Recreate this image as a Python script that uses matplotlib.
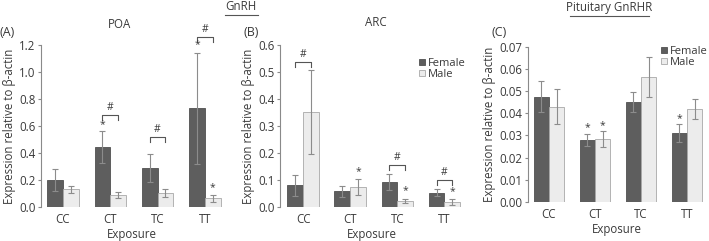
import matplotlib.pyplot as plt
import matplotlib.lines as mlines
import matplotlib.patches as mpatches
import numpy as np

plt.rcParams['font.family'] = ['Open Sans', 'DejaVu Sans']

groups = ["CC", "CT", "TC", "TT"]

# POA (GnRH)
poa_f = [0.20, 0.445, 0.29, 0.73]
poa_f_err = [0.085, 0.12, 0.105, 0.41]
poa_m = [0.13, 0.09, 0.105, 0.065]
poa_m_err = [0.025, 0.02, 0.03, 0.025]
poa_ticks = [0.0, 0.2, 0.4, 0.6, 0.8, 1.0, 1.2]

# ARC (GnRH)
arc_f = [0.08, 0.058, 0.093, 0.053]
arc_f_err = [0.04, 0.02, 0.03, 0.013]
arc_m = [0.352, 0.075, 0.023, 0.018]
arc_m_err = [0.157, 0.03, 0.007, 0.01]
arc_ticks = [0.0, 0.1, 0.2, 0.3, 0.4, 0.5, 0.6]

# pituitary GnRHR
pit_f = [0.0475, 0.028, 0.045, 0.031]
pit_f_err = [0.007, 0.0028, 0.0045, 0.004]
pit_m = [0.043, 0.0285, 0.0565, 0.042]
pit_m_err = [0.008, 0.0035, 0.009, 0.0045]
pit_ticks = [0.0, 0.01, 0.02, 0.03, 0.04, 0.05, 0.06, 0.07]

# significance marks: (group, 'f'/'m', y) for stars, (group, y) for brackets
poa_stars = [(1, 'f', 0.61), (3, 'f', 1.20), (3, 'm', 0.14)]
poa_hash = [(1, 0.68), (2, 0.52), (3, 1.257)]
arc_stars = [(1, 'm', 0.13), (2, 'm', 0.06), (3, 'm', 0.057)]
arc_hash = [(0, 0.536), (2, 0.155), (3, 0.10)]
pit_stars = [(1, 'f', 0.0335), (1, 'm', 0.0345), (3, 'f', 0.0375)]
pit_hash = []

W, H = 709, 241
fig = plt.figure(figsize=(W / 100, H / 100), dpi=100)

txt = '#3a3a3a'
spine = '#8a8a8a'
fem_c = '#5e5e5e'
mal_c = '#ececec'
bw = 0.333
fs = 8.3


def px_axes(left, bottom, top, x0, x1, spacing):
    width = (x1 - x0) * spacing
    return fig.add_axes([left / W, 1 - bottom / H, width / W, (bottom - top) / H])


def draw(ax, f, fe, m, me, ylim, yticks, fmt, stars, hashes, xlim):
    x = np.arange(len(groups))
    ax.bar(x - bw / 2, f, bw, color=fem_c, edgecolor='#505050', linewidth=0.6, zorder=2)
    ax.bar(x + bw / 2, m, bw, color=mal_c, edgecolor='#a8a8a8', linewidth=0.6, zorder=2)
    ax.errorbar(x - bw / 2, f, yerr=fe, fmt='none', ecolor='#8c8c8c', elinewidth=0.8,
                capsize=2.2, capthick=0.8, zorder=3)
    ax.errorbar(x + bw / 2, m, yerr=me, fmt='none', ecolor='#8c8c8c', elinewidth=0.8,
                capsize=2.2, capthick=0.8, zorder=3)
    ax.set_xlim(*xlim)
    ax.set_ylim(*ylim)
    ax.set_yticks(yticks)
    ax.set_yticklabels([fmt.format(t) for t in yticks])
    ax.set_xticks(x)
    ax.set_xticklabels(groups)
    for s in ['top', 'right', 'bottom']:
        ax.spines[s].set_visible(False)
    ax.spines['left'].set_color(spine)
    ax.spines['left'].set_linewidth(0.8)
    ax.tick_params(axis='y', colors=spine, labelcolor=txt, labelsize=fs, length=2.5, width=0.8, pad=1.5)
    ax.tick_params(axis='x', length=0, labelcolor=txt, labelsize=fs, pad=4)
    ax.set_xlabel("Exposure", color=txt, fontsize=fs, labelpad=1.5)
    ax.set_ylabel("Expression relative to β-actin", color=txt, fontsize=fs, labelpad=2)
    rng = ylim[1] - ylim[0]
    for g, side, y in stars:
        xs = g - bw / 2 if side == 'f' else g + bw / 2
        ax.text(xs, y, "*", ha='center', va='center', fontsize=7.5, color=txt, clip_on=False)
    for g, y in hashes:
        d = rng * 0.03
        ax.plot([g - bw / 2, g - bw / 2, g + bw / 2, g + bw / 2], [y - d, y, y, y - d],
                color='#555555', lw=0.8, clip_on=False)
        ax.text(g, y + rng * 0.012, "#", ha='center', va='bottom', fontsize=7.5, color=txt,
                clip_on=False)


xa = (-0.465, 3.38)
axA = px_axes(41, 207, 45, xa[0], xa[1], 47.3)
draw(axA, poa_f, poa_f_err, poa_m, poa_m_err, (0, 1.2), poa_ticks, "{:.1f}",
     poa_stars, poa_hash, xa)

xb = (-0.49, 3.4)
axB = px_axes(280, 207, 45, xb[0], xb[1], 47.1)
draw(axB, arc_f, arc_f_err, arc_m, arc_m_err, (0, 0.6), arc_ticks, "{:.1f}",
     arc_stars, arc_hash, xb)

xc = (-0.46, 3.42)
axC = px_axes(527.7, 202, 46.7, xc[0], xc[1], 46)
draw(axC, pit_f, pit_f_err, pit_m, pit_m_err, (0, 0.07), pit_ticks, "{:.2f}",
     pit_stars, pit_hash, xc)


def ftext(x, y, s, **kw):
    fig.text(x / W, 1 - y / H, s, color=txt, **kw)


ftext(120, 25, "POA", ha='center', va='center', fontsize=fs)
ftext(376, 23, "ARC", ha='center', va='center', fontsize=fs)
ftext(0, 33, "(A)", ha='left', va='center', fontsize=9)
ftext(243, 33, "(B)", ha='left', va='center', fontsize=9)
ftext(492, 33, "(C)", ha='left', va='center', fontsize=9)
ftext(241, 7, "GnRH", ha='center', va='center', fontsize=fs)
ftext(609, 8, "Pituitary GnRHR", ha='center', va='center', fontsize=fs)
fig.add_artist(mlines.Line2D([225 / W, 258 / W], [1 - 15 / H, 1 - 15 / H], color='#555555', lw=0.8))
fig.add_artist(mlines.Line2D([570 / W, 649 / W], [1 - 16 / H, 1 - 16 / H], color='#555555', lw=0.8))

handles = [mpatches.Patch(facecolor=fem_c, edgecolor='#505050', lw=0.6, label='Female'),
           mpatches.Patch(facecolor=mal_c, edgecolor='#a8a8a8', lw=0.6, label='Male')]
for lx, ly in [(419, 58), (661, 46)]:
    fig.legend(handles=handles, loc='upper left', bbox_to_anchor=(lx / W, 1 - ly / H),
               frameon=False, fontsize=8, handlelength=0.5, handleheight=0.5,
               handletextpad=0.3, labelspacing=0.0, borderpad=0, borderaxespad=0,
               labelcolor=txt)

fig.savefig("out.png", dpi=100)
